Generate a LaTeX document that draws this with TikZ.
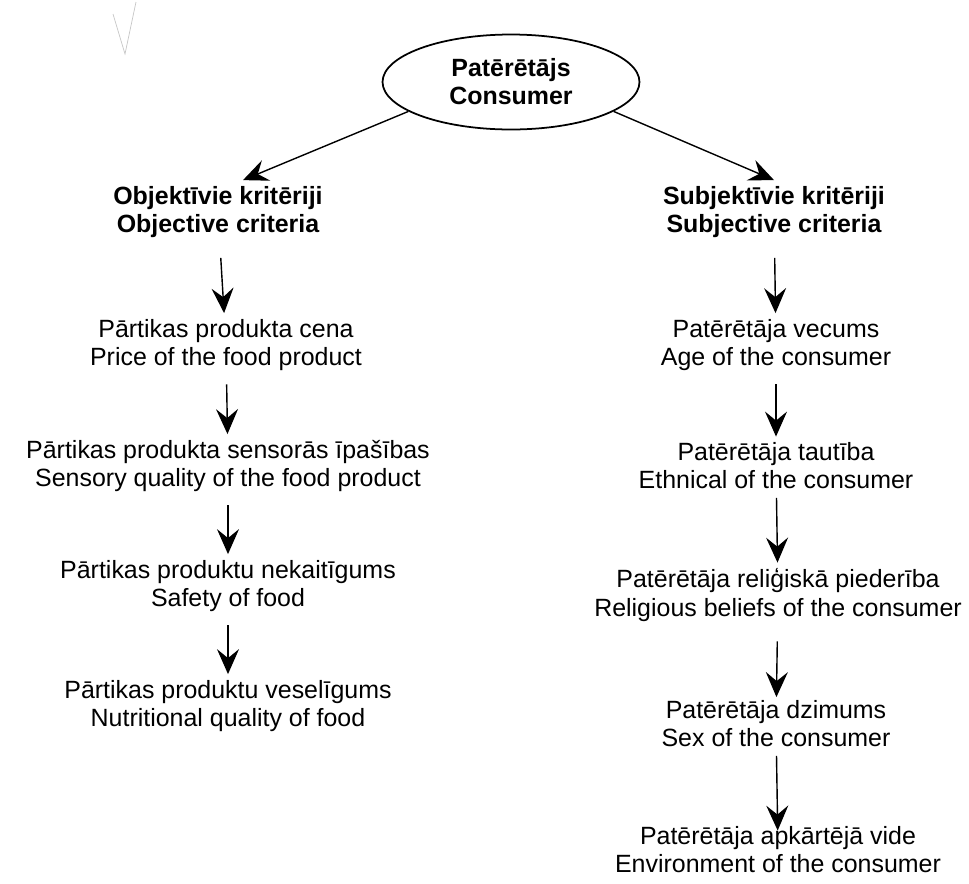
\documentclass[tikz,border=0pt]{standalone}
\usepackage{fontspec}
\setmainfont{Liberation Sans}
\usepackage{tikz}
\usetikzlibrary{arrows.meta}
\usetikzlibrary{shapes.geometric}
\tikzstyle{arrow} = [line width=0.8pt,-{Stealth[length=0.5cm,width=0.44cm,inset=0.18cm]},shorten <=0.15cm,shorten >=0pt]

\begin{document}
\begin{tikzpicture}[
            x=0.02cm, y=-0.02cm,
            label/.style={align=center, font=\fontsize{14.2pt}{16pt}\selectfont},
            head/.style={label, font=\fontsize{14.2pt}{16pt}\selectfont\bfseries}
        ]
            \useasboundingbox (0,0) rectangle (969,883);

            % faint tick mark in the corner
            \draw[gray!45, line width=0.4pt] (113,14) -- (125,54) -- (136,2);

            \node[head, draw, ellipse, line width=1pt, minimum width=5.14cm, minimum height=1.9cm, inner sep=0pt] (cons) at (511,82) {Patērētājs\\Consumer};

            \node[head] (obj) at (218,212) {Objektīvie kritēriji\\Objective criteria};
            \node[head] (subj) at (774,212) {Subjektīvie kritēriji\\Subjective criteria};

            \draw[arrow, shorten <=0pt] (cons.196) -- ([xshift=0.5cm]obj.north);
            \draw[arrow, shorten <=0pt] (cons.-16) -- (subj.north);

            % objective branch
            \node[label] (price) at (226,345) {Pārtikas produkta cena\\Price of the food product};
            \node[label] (sens) at (228,466) {Pārtikas produkta sensorās īpašības\\Sensory quality of the food product};
            \node[label] (safe) at (228,586) {Pārtikas produktu nekaitīgums\\Safety of food};
            \node[label] (nutr) at (228,706) {Pārtikas produktu veselīgums\\Nutritional quality of food};

            \draw[arrow, shorten <=0.28cm] (obj) -- (price);
            \draw[arrow] (price) -- (sens);
            \draw[arrow] (sens) -- (safe);
            \draw[arrow] (safe) -- (nutr);

            % subjective branch
            \node[label] (age) at (776,345) {Patērētāja vecums\\Age of the consumer};
            \node[label] (eth) at (776,466) {Patērētāja tautība\\Ethnical of the consumer};
            \node[label] (rel) at (778,595) {Patērētāja reliģiskā piederība\\Religious beliefs of the consumer};
            \node[label] (sex) at (776,724) {Patērētāja dzimums\\Sex of the consumer};
            \node[label] (env) at (778,850) {Patērētāja apkārtējā vide\\Environment of the consumer};

            \draw[arrow, shorten <=0.28cm] (subj) -- (age);
            \draw[arrow] (age) -- (eth);
            \draw[arrow, shorten <=0.05cm] (eth) -- (rel);
            \draw[arrow, shorten <=0.28cm, shorten >=-0.05cm] (rel) -- (sex);
            \draw[arrow, shorten <=0.05cm, shorten >=-0.2cm] (sex) -- (env);

        \end{tikzpicture}
\end{document}
